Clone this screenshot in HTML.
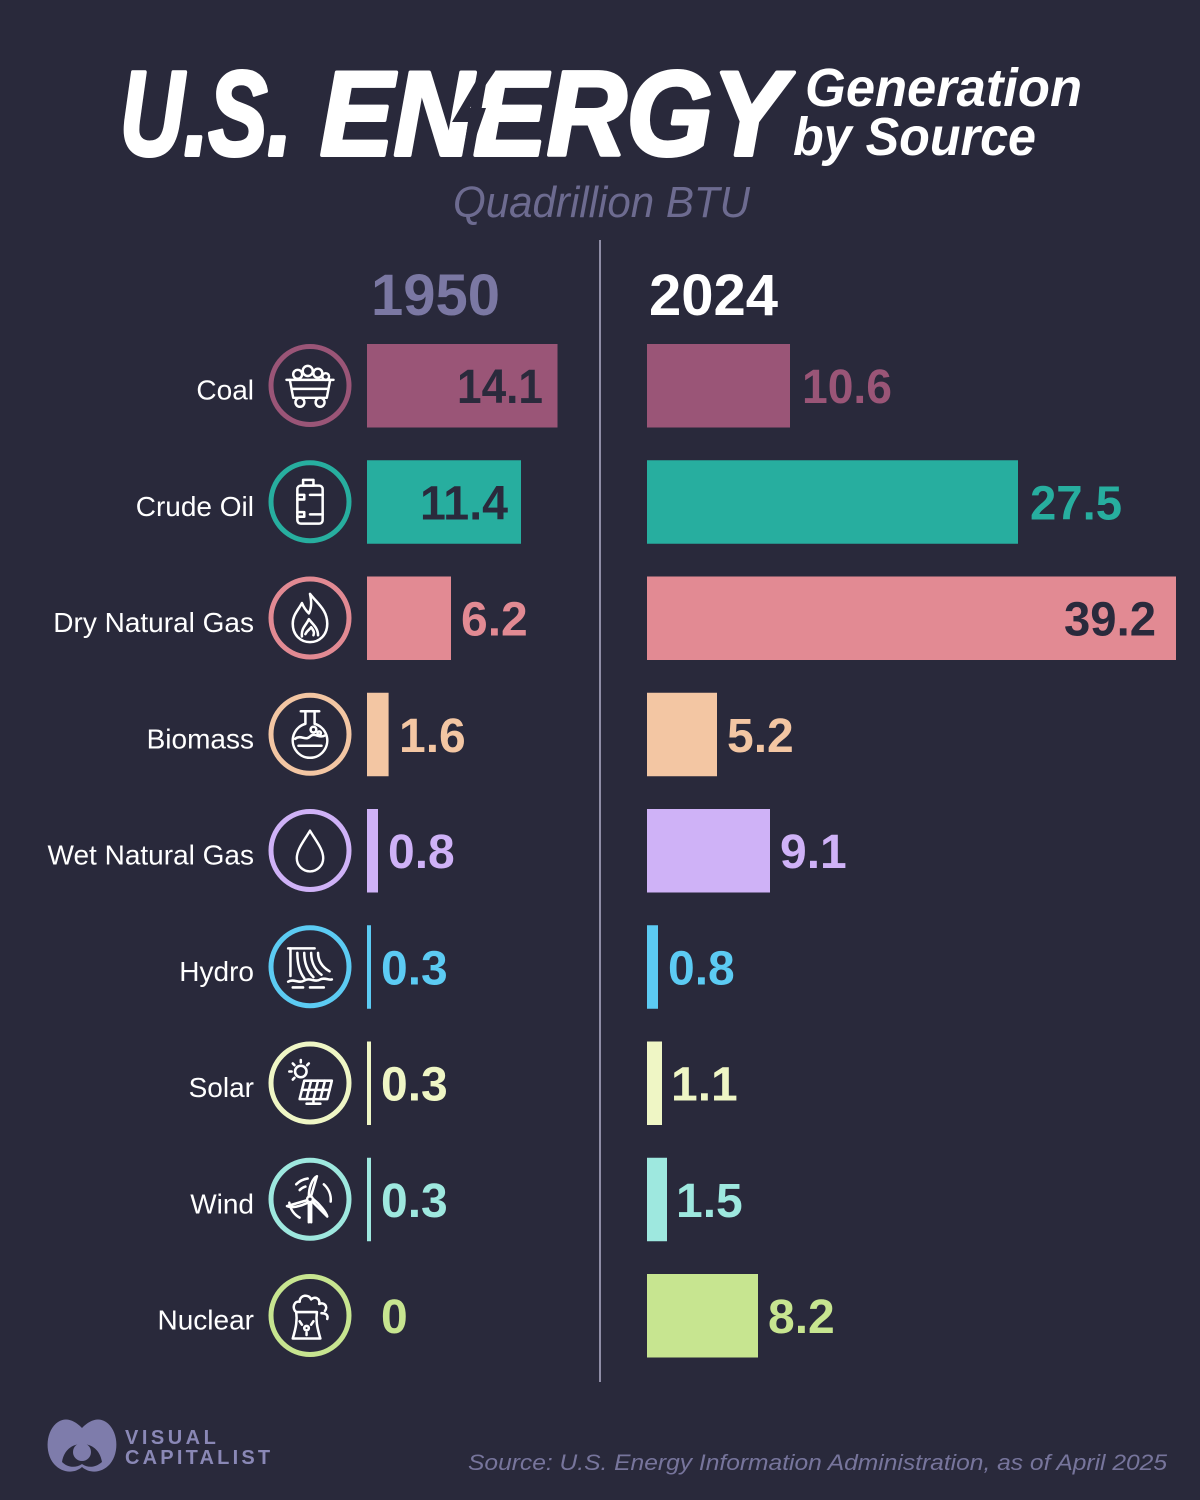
<!DOCTYPE html>
<html>
<head>
<meta charset="utf-8">
<style>
  html,body{margin:0;padding:0;background:#29293b;}
  svg{display:block;}
  text{font-family:"Liberation Sans", "DejaVu Sans", sans-serif;}
</style>
</head>
<body>
<svg width="1200" height="1500" viewBox="0 0 1200 1500" xmlns="http://www.w3.org/2000/svg">
  <rect x="0" y="0" width="1200" height="1500" fill="#29293b"/>

  <!-- Title -->
  <text x="120" y="155" font-size="120" font-weight="bold" font-style="italic" fill="#ffffff" stroke="#ffffff" stroke-width="4" stroke-linejoin="round" textLength="172" lengthAdjust="spacingAndGlyphs">U.S.</text>
  <text x="320" y="155" font-size="120" font-weight="bold" font-style="italic" fill="#ffffff" stroke="#ffffff" stroke-width="4" stroke-linejoin="round" textLength="466" lengthAdjust="spacingAndGlyphs">ENERGY</text>
  <!-- lightning cut -->
  <polygon points="486,64 500,64 470,108 486,108 468,160 462,160 468,122 452,122" fill="#29293b"/>
  <text x="805" y="106" font-size="54" font-weight="bold" font-style="italic" fill="#ffffff" textLength="277" lengthAdjust="spacingAndGlyphs">Generation</text>
  <text x="793" y="155" font-size="54" font-weight="bold" font-style="italic" fill="#ffffff" textLength="243" lengthAdjust="spacingAndGlyphs">by Source</text>
  <text x="453" y="217" font-size="44" font-style="italic" fill="#6d6b90" textLength="297" lengthAdjust="spacingAndGlyphs">Quadrillion BTU</text>

  <!-- divider -->
  <line x1="600" y1="240" x2="600" y2="1382" stroke="#8f8da6" stroke-width="2"/>

  <!-- years -->
  <text x="371" y="315" font-size="58" font-weight="bold" fill="#7b78a3">1950</text>
  <text x="649" y="315" font-size="58" font-weight="bold" fill="#ffffff">2024</text>

  <!-- Row labels -->
  <g font-size="28" fill="#ffffff" text-anchor="end">
    <text x="254" y="399.5">Coal</text>
    <text x="254" y="515.75">Crude Oil</text>
    <text x="254" y="632">Dry Natural Gas</text>
    <text x="254" y="748.25">Biomass</text>
    <text x="254" y="864.5">Wet Natural Gas</text>
    <text x="254" y="980.75">Hydro</text>
    <text x="254" y="1097">Solar</text>
    <text x="254" y="1213.25">Wind</text>
    <text x="254" y="1329.5">Nuclear</text>
  </g>

  <!-- Icon circles -->
  <g fill="none" stroke-width="5">
    <circle cx="310" cy="385.5" r="39" stroke="#9a5577"/>
    <circle cx="310" cy="501.75" r="39" stroke="#27ae9f"/>
    <circle cx="310" cy="618" r="39" stroke="#e28a93"/>
    <circle cx="310" cy="734.25" r="39" stroke="#f3c6a3"/>
    <circle cx="310" cy="850.5" r="39" stroke="#cfb2f7"/>
    <circle cx="310" cy="966.75" r="39" stroke="#5ccbf3"/>
    <circle cx="310" cy="1083" r="39" stroke="#eff6c5"/>
    <circle cx="310" cy="1199.25" r="39" stroke="#9ee8df"/>
    <circle cx="310" cy="1315.5" r="39" stroke="#c7e590"/>
  </g>

  <!-- Icons -->
  <g fill="none" stroke="#ffffff" stroke-width="2.2" stroke-linecap="round" stroke-linejoin="round">
    <!-- coal cart -->
    <g transform="translate(310,385.5) scale(1.12)">
      <line x1="-21" y1="-5" x2="21" y2="-5"/>
      <path d="M-18,-5 L-15,11 H15 L18,-5"/>
      <line x1="-16" y1="3" x2="16" y2="3"/>
      <circle cx="-9" cy="15" r="4"/>
      <circle cx="9" cy="15" r="4"/>
      <circle cx="-11" cy="-10" r="4"/>
      <circle cx="-2" cy="-13" r="4.5"/>
      <circle cx="7" cy="-11" r="4"/>
      <circle cx="14" cy="-8" r="3"/>
    </g>
    <!-- barrel -->
    <g transform="translate(310,501.75) scale(1.15)">
      <rect x="-11" y="-14" width="22" height="33" rx="3"/>
      <rect x="-6" y="-19" width="9" height="5"/>
      <path d="M-11,-6 H-5 V-2 H-11"/>
      <path d="M-11,9 H-5 V13 H-11"/>
      <line x1="0" y1="-6" x2="11" y2="-6"/>
      <line x1="0" y1="11" x2="11" y2="11"/>
    </g>
    <!-- flame -->
    <g transform="translate(310,618) scale(1.15)">
      <path d="M0,-21 C7,-12 15,-7 15,5 C15,15 8,21 0,21 C-8,21 -15,15 -15,5 C-15,-3 -10,-7 -7,-13 C-5,-8 -3,-6 -1,-4 C2,-10 1,-16 0,-21 Z"/>
      <path d="M-7,16 C-8,9 -3,6 -1,1 C3,6 7,9 7,15 M-4,14 C-2,10 0,10 1,8 C3,11 4,12 3,15"/>
    </g>
    <!-- flask -->
    <g transform="translate(310,734.25) scale(1.15)">
      <line x1="-8" y1="-20" x2="8" y2="-20"/>
      <path d="M-4,-20 V-9 A15,15 0 1,0 4,-9 V-20"/>
      <path d="M-13,4 C-8,0 -4,6 0,2 C4,-2 8,4 13,1"/>
      <path d="M-10,10 H10"/>
      <circle cx="3" cy="-4" r="2.5"/>
      <circle cx="8" cy="-1" r="1.5"/>
    </g>
    <!-- drop -->
    <g transform="translate(310,850.5) scale(1.1)">
      <path d="M0,-18 C6,-8 12,-1 12,7 A12,12 0 0 1 -12,7 C-12,-1 -6,-8 0,-18 Z"/>
    </g>
    <!-- hydro dam -->
    <g transform="translate(310,966.75) scale(1.15)">
      <path d="M-19,-16 H4"/>
      <path d="M-17,-16 V8"/>
      <path d="M-11,-12 C-11,0 -8,6 -5,10 M-5,-12 C-5,-1 -1,5 3,9 M1,-12 C1,-2 6,4 10,7 M7,-12 C7,-4 12,1 17,4"/>
      <path d="M-19,13 C-14,10 -10,15 -5,12 C0,9 4,14 9,11 C13,9 16,12 19,11"/>
      <path d="M-15,18 H-6 M0,18 H12"/>
    </g>
    <!-- solar -->
    <g transform="translate(310,1083) scale(1.15)">
      <circle cx="-8" cy="-10" r="5"/>
      <path d="M-8,-20 V-18 M-18,-10 H-16 M-15,-17 L-13.5,-15.5 M-1,-17 L-2.5,-15.5 M-15,-3 L-13.5,-4.5"/>
      <path d="M-5,-2 H19 L15,14 H-9 Z"/>
      <path d="M1,-2 L-3,14 M7,-2 L3,14 M13,-2 L9,14 M-7,6 H17"/>
      <path d="M3,14 V18 M-3,18 H9"/>
    </g>
    <!-- wind -->
    <g transform="translate(310,1199.25) scale(1.15)">
      <circle cx="0" cy="0" r="2.5"/>
      <path d="M1,-3 L6,-20 C2,-18 -1,-10 -1,-3"/>
      <path d="M-3,1 L-20,6 C-16,8 -8,6 -2,3"/>
      <path d="M2,2 L15,15 C14,11 8,4 3,0"/>
      <path d="M-1,4 V20 M1,4 V20"/>
      <path d="M-12,-13 A18,18 0 0,1 -2,-18"/>
      <path d="M12,-13 A18,18 0 0,1 18,2"/>
      <path d="M-18,3 A18,18 0 0,0 -9,16"/>
      <path d="M-9,-8 A12,12 0 0,1 -4,-11"/>
    </g>
    <!-- nuclear -->
    <g transform="translate(310,1315.5) scale(1.15)">
      <path d="M-15,20 C-12,10 -11,4 -12,-3 H6 C5,4 6,10 9,20 Z"/>
      <path d="M-12,-3 C-16,-6 -14,-13 -9,-12 C-9,-18 -1,-19 1,-14 C4,-17 9,-15 8,-10 C12,-12 16,-8 13,-4"/>
      <path d="M10,-2 C14,-2 16,0 15,3"/>
      <circle cx="-3" cy="11" r="2"/>
      <path d="M-7,8 L-9,5 M1,8 L3,5 M-3,15 V17"/>
    </g>
  </g>

  <!-- 1950 bars -->
  <rect x="367" y="344" width="190.5" height="83.5" fill="#9a5577"/>
  <rect x="367" y="460.25" width="154" height="83.5" fill="#27ae9f"/>
  <rect x="367" y="576.5" width="84" height="83.5" fill="#e28a93"/>
  <rect x="367" y="692.75" width="21.6" height="83.5" fill="#f3c6a3"/>
  <rect x="367" y="809" width="11" height="83.5" fill="#cfb2f7"/>
  <rect x="367" y="925.25" width="4" height="83.5" fill="#5ccbf3"/>
  <rect x="367" y="1041.5" width="4" height="83.5" fill="#eff6c5"/>
  <rect x="367" y="1157.75" width="4" height="83.5" fill="#9ee8df"/>

  <!-- 2024 bars -->
  <rect x="647" y="344" width="143" height="83.5" fill="#9a5577"/>
  <rect x="647" y="460.25" width="371" height="83.5" fill="#27ae9f"/>
  <rect x="647" y="576.5" width="529" height="83.5" fill="#e28a93"/>
  <rect x="647" y="692.75" width="70" height="83.5" fill="#f3c6a3"/>
  <rect x="647" y="809" width="123" height="83.5" fill="#cfb2f7"/>
  <rect x="647" y="925.25" width="11" height="83.5" fill="#5ccbf3"/>
  <rect x="647" y="1041.5" width="15" height="83.5" fill="#eff6c5"/>
  <rect x="647" y="1157.75" width="20" height="83.5" fill="#9ee8df"/>
  <rect x="647" y="1274" width="111" height="83.5" fill="#c7e590"/>

  <!-- value labels -->
  <g font-size="48" font-weight="bold">
    <text x="543" y="403" text-anchor="end" fill="#2a2a3c" textLength="86" lengthAdjust="spacingAndGlyphs">14.1</text>
    <text x="508" y="519.25" text-anchor="end" fill="#2a2a3c" textLength="88" lengthAdjust="spacingAndGlyphs">11.4</text>
    <text x="461" y="635.5" fill="#e28a93">6.2</text>
    <text x="399" y="751.75" fill="#f3c6a3">1.6</text>
    <text x="388" y="868" fill="#cfb2f7">0.8</text>
    <text x="381" y="984.25" fill="#5ccbf3">0.3</text>
    <text x="381" y="1100.5" fill="#eff6c5">0.3</text>
    <text x="381" y="1216.75" fill="#9ee8df">0.3</text>
    <text x="381" y="1333" fill="#c7e590">0</text>

    <text x="802" y="403" fill="#9a5577" textLength="90" lengthAdjust="spacingAndGlyphs">10.6</text>
    <text x="1030" y="519.25" fill="#27ae9f" textLength="92" lengthAdjust="spacingAndGlyphs">27.5</text>
    <text x="1156" y="635.5" text-anchor="end" fill="#2a2a3c" textLength="92" lengthAdjust="spacingAndGlyphs">39.2</text>
    <text x="727" y="751.75" fill="#f3c6a3">5.2</text>
    <text x="780" y="868" fill="#cfb2f7">9.1</text>
    <text x="668" y="984.25" fill="#5ccbf3">0.8</text>
    <text x="671" y="1100.5" fill="#eff6c5">1.1</text>
    <text x="676" y="1216.75" fill="#9ee8df">1.5</text>
    <text x="768" y="1333" fill="#c7e590">8.2</text>
  </g>

  <!-- Logo -->
  <g fill="#7e7cab">
    <path d="M58,1422 C66,1417 74,1420 82,1428 C90,1420 98,1417 106,1422 C118,1430 120,1452 110,1464 C102,1473 90,1474 82,1467 C74,1474 62,1473 54,1464 C44,1452 46,1430 58,1422 Z"/>
  </g>
  <path d="M62,1462 C64,1450 72,1444 82,1444 C92,1444 100,1450 102,1462 C95,1468 88,1468 82,1464 C76,1468 68,1468 62,1462 Z" fill="#29293b"/>
  <circle cx="82" cy="1452" r="9" fill="#7e7cab"/>
  <text x="125" y="1444" font-size="20" font-weight="bold" fill="#8a88b6" letter-spacing="3.5">VISUAL</text>
  <text x="125" y="1464" font-size="20" font-weight="bold" fill="#8a88b6" letter-spacing="3.2">CAPITALIST</text>

  <!-- Source -->
  <text x="468" y="1470" font-size="22" font-style="italic" fill="#77759c" textLength="699" lengthAdjust="spacingAndGlyphs">Source: U.S. Energy Information Administration, as of April 2025</text>
</svg>
</body>
</html>
